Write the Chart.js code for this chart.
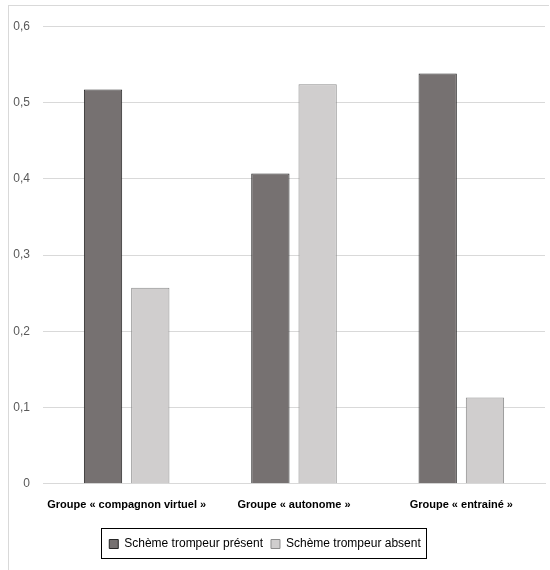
<!DOCTYPE html>
<html lang="fr">
<head>
    <meta charset="UTF-8">
    <title>Schème trompeur</title>
    <script src="https://cdn.jsdelivr.net/npm/chart.js"></script>
    <style>
        body { margin: 0; background: #fff; }
        #box {
            position: absolute; left: 8px; top: 5px;
            width: 540px; height: 565px;
            border-left: 1px solid #d9d9d9;
            border-top: 1px solid #d9d9d9;
        }
    </style>
</head>
<body>
<div id="box"><canvas id="chart"></canvas></div>
<script>
    const categories = ["Groupe « compagnon virtuel »", "Groupe « autonome »", "Groupe « entrainé »"];
    const present = [0.517, 0.407, 0.538];
    const absent = [0.257, 0.524, 0.113];
    const seriesNames = ["Schème trompeur présent", "Schème trompeur absent"];

    const FONT = "'Liberation Sans', Arial, sans-serif";

    // légende un peu décalée à gauche + cadre noir autour
    const legendFrame = {
        id: 'legendFrame',
        afterLayout(chart) {
            chart.legend.left -= 12;
            chart.legend.right -= 12;
        },
        afterDraw(chart) {
            const boxes = chart.legend.legendHitBoxes;
            if (!boxes || !boxes.length) return;
            let l = Infinity, r = -Infinity, t = Infinity, b = -Infinity;
            boxes.forEach(h => {
                l = Math.min(l, h.left); r = Math.max(r, h.left + h.width);
                t = Math.min(t, h.top); b = Math.max(b, h.top + h.height);
            });
            const ctx = chart.ctx;
            ctx.save();
            ctx.strokeStyle = '#000';
            ctx.lineWidth = 1;
            ctx.strokeRect(Math.round(l - 8) + 0.5, Math.round(t - 10) + 0.5, Math.round(r - l + 14), Math.round(b - t + 18));
            ctx.restore();
        }
    };

    new Chart(document.getElementById('chart'), {
        type: 'bar',
        data: {
            labels: categories,
            datasets: [{
                label: seriesNames[0],
                data: present,
                backgroundColor: '#767171',
                borderColor: '#262626',
                borderWidth: 1
            }, {
                label: seriesNames[1],
                data: absent,
                backgroundColor: '#d0cece',
                borderColor: '#8c8c8c',
                borderWidth: 1
            }]
        },
        options: {
            responsive: true,
            maintainAspectRatio: false,
            animation: false,
            categoryPercentage: 0.565,
            barPercentage: 0.81,
            layout: { padding: { left: 0, right: 4, top: 16, bottom: 11 } },
            plugins: {
                tooltip: { enabled: false },
                legend: {
                    position: 'bottom',
                    labels: {
                        boxWidth: 9, boxHeight: 9,
                        color: '#000',
                        font: { family: FONT, size: 12 },
                        padding: 8
                    }
                }
            },
            scales: {
                x: {
                    grid: { display: false },
                    border: { color: '#d9d9d9' },
                    afterFit: s => { s.height += 11; },
                    ticks: {
                        color: '#000',
                        autoSkip: false,
                        font: { family: FONT, size: 11, weight: 'bold' },
                        padding: 7,
                        maxRotation: 0
                    }
                },
                y: {
                    min: 0, max: 0.6,
                    grid: { color: '#d9d9d9', drawTicks: false },
                    border: { display: false },
                    afterFit: s => { s.width = 34; },
                    ticks: {
                        stepSize: 0.1,
                        color: '#595959',
                        padding: 13,
                        font: { family: FONT, size: 12 },
                        callback: v => v === 0 ? '0' : v.toFixed(1).replace('.', ',')
                    }
                }
            }
        },
        plugins: [legendFrame]
    });
</script>
</body>
</html>
